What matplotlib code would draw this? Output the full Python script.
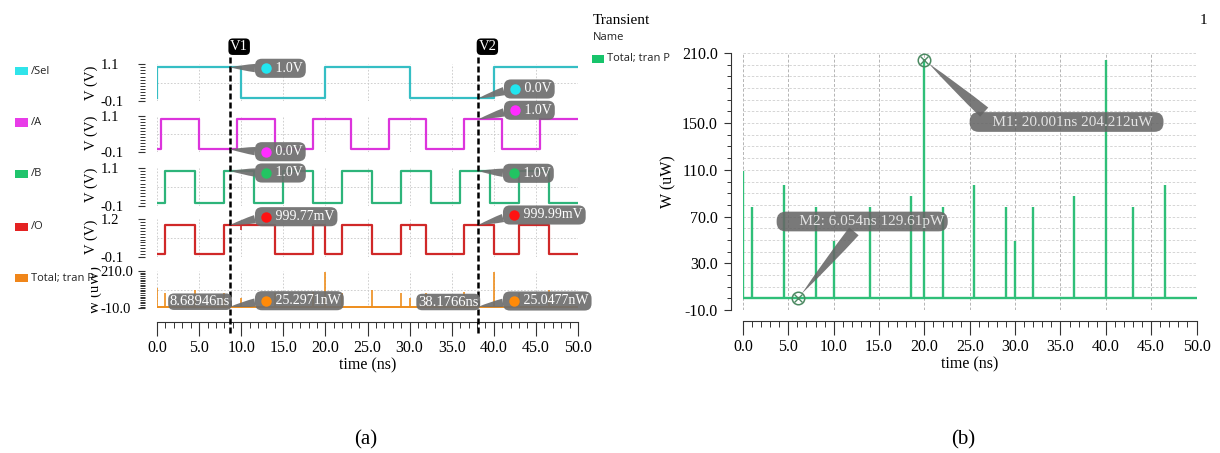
import matplotlib
matplotlib.use('Agg')
import matplotlib.pyplot as plt
from matplotlib.ticker import MultipleLocator, FormatStrFormatter
from matplotlib.transforms import blended_transform_factory
from matplotlib.patches import Rectangle

plt.rcParams['font.family'] = ['Liberation Serif', 'DejaVu Sans']

# ---- data (time in ns) ----
sel_t = [0, 0, 10, 20, 30, 40, 50]
sel_v = [0, 1, 0, 1, 0, 1, 1]
a_t = [0, 0.5, 5, 9.5, 14, 18.5, 23, 27.5, 32, 36.5, 41, 45.5, 50]
a_v = [0, 1, 0, 1, 0, 1, 0, 1, 0, 1, 0, 1, 1]
b_t = [0, 1, 4.5, 8, 11.5, 15, 18.5, 22, 25.5, 29, 32.5, 36, 39.5, 43, 46.5, 50]
b_v = [0, 1, 0, 1, 0, 1, 0, 1, 0, 1, 0, 1, 0, 1, 0, 0]
o_t = [0, 1, 4.5, 8, 14, 18.5, 20, 22, 25.5, 29, 32, 36.5, 40, 43, 46.5, 50]
o_v = [0, 1, 0, 1, 0, 1, 0, 1, 0, 1, 0, 1, 0, 1, 0, 0]
o_glitch_t = [10, 30]
o_glitch_v = [0.83, 0.83]

# total power spikes (uW)
p_t = [0.0, 1.0, 4.5, 8.0, 10.0, 14.0, 18.5, 20.0, 22.0, 25.5, 29.0, 30.0, 32.0, 36.5, 40.0, 43.0, 46.5]
p_uw = [109, 78, 97, 78, 49, 78, 88, 204.2, 78, 97, 78, 49, 78, 88, 204, 78, 97]
p_base = 129.61e-6

# cursors
v1_t = 8.68946
v2_t = 38.1766
v1_vals = [1.0, 0.0, 1.0, 0.99977, 25.2971e-3]
v1_text = ['1.0V', '0.0V', '1.0V', '999.77mV', '25.2971nW']
v2_vals = [0.0, 1.0, 1.0, 0.99999, 25.0477e-3]
v2_text = ['0.0V', '1.0V', '1.0V', '999.99mV', '25.0477nW']

# markers (right plot)
m1 = (20.001, 204.212)
m2 = (6.054, 129.61e-6)
m1_text = 'M1: 20.001ns 204.212uW'
m2_text = 'M2: 6.054ns 129.61pW'

names = ['/Sel', '/A', '/B', '/O', 'Total; tran P']
line_colors = ['#35bec4', '#dc34dc', '#2db47a', '#d02828', '#ee8d1c']
swatch_colors = ['#30e4ea', '#e83ce8', '#20c46c', '#e42222', '#f0861a']
dot_colors = ['#22e6f0', '#ff2cff', '#22c462', '#ff1212', '#ff8a08']
green = '#2fbf78'

W, H = 1220, 453


def rect(x0, y0, x1, y1):
    return [x0 / W, 1 - y1 / H, (x1 - x0) / W, (y1 - y0) / H]


fig = plt.figure(figsize=(W / 100, H / 100), dpi=100)

strip_box = [(64.2, 101.4), (116.3, 152.3), (167.8, 205.9), (219.2, 256.9), (271.0, 308.4)]
strip_lim = [(-0.1, 1.1), (-0.1, 1.1), (-0.1, 1.1), (-0.1, 1.2), (-10, 210)]
strip_lab = [('-0.1', '1.1'), ('-0.1', '1.1'), ('-0.1', '1.1'), ('-0.1', '1.2'), ('-10.0', '210.0')]
strip_minor = [0.1, 0.1, 0.1, 0.1, 10]
grid_kw = dict(color='#c8c8c8', ls=(0, (2, 2)), lw=0.6)

axes = []
for i in range(5):
    top, bot = strip_box[i]
    ax = fig.add_axes(rect(157, top, 578, bot), sharex=axes[0] if axes else None)
    ax.set_facecolor('none')
    lo, hi = strip_lim[i]
    ax.set_xlim(0, 50)
    ax.set_ylim(lo, hi)
    for s in ['top', 'right', 'bottom']:
        ax.spines[s].set_visible(False)
    ax.spines['left'].set_position(('outward', 9))
    ax.spines['left'].set_color('none')
    ax.set_yticks([lo, hi])
    ax.set_yticklabels(strip_lab[i])
    ax.yaxis.set_minor_locator(MultipleLocator(strip_minor[i]))
    ax.tick_params(axis='y', which='major', length=5, width=0.8, color='#333333',
                   pad=26.5, labelsize=10.5)
    ax.tick_params(axis='y', which='minor', length=3.6, width=0.7, color='#333333')
    for lab in ax.get_yticklabels():
        lab.set_horizontalalignment('left')
    ax.xaxis.set_major_locator(MultipleLocator(5))
    ax.xaxis.set_minor_locator(MultipleLocator(1))
    ax.grid(axis='x', which='major', **grid_kw)
    ax.axhline(lo, zorder=0, **grid_kw)
    ax.axhline((lo + hi) / 2, zorder=0, **grid_kw)
    if i < 4:
        ax.tick_params(axis='x', which='both', bottom=False, labelbottom=False)
    axes.append(ax)

signals = [(sel_t, sel_v), (a_t, a_v), (b_t, b_v), (o_t, o_v)]
for i, (t, v) in enumerate(signals):
    axes[i].step(t, v, where='post', color=line_colors[i], lw=1.6, zorder=3)
axes[3].vlines(o_glitch_t, o_glitch_v, 1.0, color=line_colors[3], lw=1.2, zorder=3)
ax_p = axes[4]
ax_p.hlines(p_base, 0, 50, color=line_colors[4], lw=1.4, zorder=3)
ax_p.vlines(p_t, p_base, p_uw, color=line_colors[4], lw=1.2, zorder=3)

# shared time axis of the left panel
ax_p.spines['bottom'].set_visible(True)
ax_p.spines['bottom'].set_position(('outward', 10))
ax_p.spines['bottom'].set_color('#333333')
ax_p.xaxis.set_major_formatter(FormatStrFormatter('%.1f'))
ax_p.tick_params(axis='x', which='major', length=10, width=0.8, color='#333333', pad=3, labelsize=11.5)
ax_p.tick_params(axis='x', which='minor', length=4.3, width=0.7, color='#333333')
ax_p.set_xlabel('time (ns)', fontsize=11.5, labelpad=1)

# ---- right panel ----
ax2 = fig.add_axes(rect(743, 53, 1196.5, 310))
ax2.set_facecolor('none')
ax2.hlines(p_base, 0, 50, color=green, lw=1.7, zorder=3)
ax2.vlines(p_t, p_base, p_uw, color=green, lw=1.7, zorder=3)
ax2.set_xlim(0, 50)
ax2.set_ylim(-10, 210)
for s in ['top', 'right']:
    ax2.spines[s].set_visible(False)
ax2.spines['left'].set_position(('outward', 9))
ax2.spines['bottom'].set_position(('outward', 8))
for s in ['left', 'bottom']:
    ax2.spines[s].set_color('#333333')
ax2.set_yticks([-10, 30, 70, 110, 150, 210])
ax2.yaxis.set_major_formatter(FormatStrFormatter('%.1f'))
ax2.yaxis.set_minor_locator(MultipleLocator(10))
ax2.xaxis.set_major_locator(MultipleLocator(5))
ax2.xaxis.set_minor_locator(MultipleLocator(1))
ax2.xaxis.set_major_formatter(FormatStrFormatter('%.1f'))
ax2.tick_params(axis='x', which='major', length=10, width=0.8, color='#333333', pad=3, labelsize=11.5)
ax2.tick_params(axis='x', which='minor', length=4, width=0.7, color='#333333')
ax2.tick_params(axis='y', which='major', length=5, width=0.8, color='#333333', pad=4, labelsize=11.5)
ax2.tick_params(axis='y', which='minor', length=3, width=0.7, color='#333333')
ax2.grid(axis='x', which='major', color='#b4b4b4', ls=(0, (3, 2)), lw=0.7)
ax2.grid(axis='y', which='both', color='#cfcfcf', ls=(0, (3, 2)), lw=0.6)
ax2.set_xlabel('time (ns)', fontsize=11.5, labelpad=1)
ax2.set_ylabel('W (uW)', fontsize=11.5, labelpad=4)
for m in (m1, m2):
    ax2.plot(m[0], m[1], marker='o', ms=9, mfc='none', mec='#4c8a62', mew=1.1, zorder=5, clip_on=False)
    ax2.plot(m[0], m[1], marker='x', ms=6, mec='#4c8a62', mew=1.0, zorder=5, clip_on=False)

# ---- overlay in figure pixels (y down) for cursors, balloons and legends ----
ov = fig.add_axes([0, 0, 1, 1])
ov.set_xlim(0, W)
ov.set_ylim(H, 0)
ov.axis('off')
ov.set_zorder(10)

bt = blended_transform_factory(ax_p.transData, ov.transData)
for tc, lab in [(v1_t, 'V1'), (v2_t, 'V2')]:
    ov.plot([tc, tc], [57, 334], transform=bt, color='black', lw=1.8, ls=(0, (2.4, 1.2)), zorder=4)
    ov.text(tc, 46.7, lab, transform=bt, color='white', fontsize=10.5, ha='left', va='center',
            bbox=dict(boxstyle='round,pad=0.12,rounding_size=0.3', fc='black', ec='none'), zorder=6)

ball_kw = dict(boxstyle='round,pad=0.22,rounding_size=0.5', fc='#6e6e6e', ec='none', alpha=0.92)


def balloon(ax, t, v, x0, yc, txt, dot):
    ov.annotate('     ' + txt, xy=(t, v), xycoords=ax.transData, xytext=(x0 + 3, yc),
                textcoords='data', ha='left', va='center', color='white', fontsize=10,
                bbox=ball_kw, annotation_clip=False, zorder=6,
                arrowprops=dict(arrowstyle='wedge,tail_width=0.6,shrink_factor=0.6', fc='#6e6e6e',
                                ec='none', alpha=0.92, relpos=(0.1, 0.5), shrinkA=0, shrinkB=0))
    ov.plot(x0 + 11, yc, marker='o', ms=7.5, mfc=dot, mec='none', zorder=7)


v1_pos = [(255, 68.3), (255, 151.7), (255, 173), (255, 216.7), (255, 300.7)]
v2_pos = [(504, 89), (504, 110.3), (503, 173.3), (503, 215), (503, 301)]
for i in range(5):
    balloon(axes[i], v1_t, v1_vals[i], v1_pos[i][0], v1_pos[i][1], v1_text[i], dot_colors[i])
    balloon(axes[i], v2_t, v2_vals[i], v2_pos[i][0], v2_pos[i][1], v2_text[i], dot_colors[i])

for tc, yc in [(v1_t, 301.7), (v2_t, 302)]:
    ov.text(tc, yc, '%gns' % tc, transform=bt, color='white', fontsize=10.5, ha='right', va='center',
            bbox=dict(boxstyle='round,pad=0.12,rounding_size=0.4', fc='#6e6e6e', ec='none', alpha=0.92),
            zorder=6)

m_kw = dict(boxstyle='round,pad=0.22,rounding_size=0.6', fc='#666666', ec='none', alpha=0.88)
ov.annotate('     ' + m1_text + '  ', xy=m1, xycoords=ax2.transData, xytext=(973, 122),
            textcoords='data', ha='left', va='center', color='#e4e4e4', fontsize=11,
            bbox=m_kw, annotation_clip=False, zorder=6,
            arrowprops=dict(arrowstyle='wedge,tail_width=0.8,shrink_factor=0.6', fc='#666666',
                            ec='none', alpha=0.88, relpos=(0.12, 0.5), shrinkA=0, shrinkB=4))
ov.annotate('     ' + m2_text, xy=m2, xycoords=ax2.transData, xytext=(780, 221.5),
            textcoords='data', ha='left', va='center', color='#e4e4e4', fontsize=11,
            bbox=m_kw, annotation_clip=False, zorder=6,
            arrowprops=dict(arrowstyle='wedge,tail_width=0.8,shrink_factor=0.6', fc='#666666',
                            ec='none', alpha=0.88, relpos=(0.5, 0.5), shrinkA=0, shrinkB=4))

# left legend and axis labels
leg_y = [71, 122.5, 174, 226.7, 278]
for i in range(5):
    ov.add_patch(Rectangle((15, leg_y[i] - 4.2), 13, 8.4, fc=swatch_colors[i], ec='none'))
    ov.text(31, leg_y[i], names[i], fontsize=8, family='Open Sans', ha='left', va='center', color='#222222')

vlab_y = [83.3, 133, 185, 236.7]
for y in vlab_y:
    ov.text(91, y, 'V (V)', rotation=90, fontsize=10.5, ha='center', va='center')
wl = ov.text(95, 290, 'W (uW)', rotation=90, fontsize=10.5, ha='center', va='center')
wl.set_clip_on(True)
wl.set_clip_path(Rectangle((91, 255), 40, 70, transform=ov.transData))

# right header
ov.text(592.7, 20.7, 'Transient', fontsize=11, ha='left', va='center')
ov.text(593, 37.7, 'Name', fontsize=8, family='Open Sans', ha='left', va='center', color='#222222')
ov.add_patch(Rectangle((592, 55), 12, 8, fc='#17c46b', ec='none'))
ov.text(607, 59, 'Total; tran P', fontsize=8, family='Open Sans', ha='left', va='center', color='#222222')
ov.text(1203, 20.7, '1', fontsize=11, ha='center', va='center')

# captions
ov.text(366, 440, '(a)', fontsize=15, ha='center', va='center')
ov.text(963, 440, '(b)', fontsize=15, ha='center', va='center')

fig.savefig('out.png', dpi=100, facecolor='white')
